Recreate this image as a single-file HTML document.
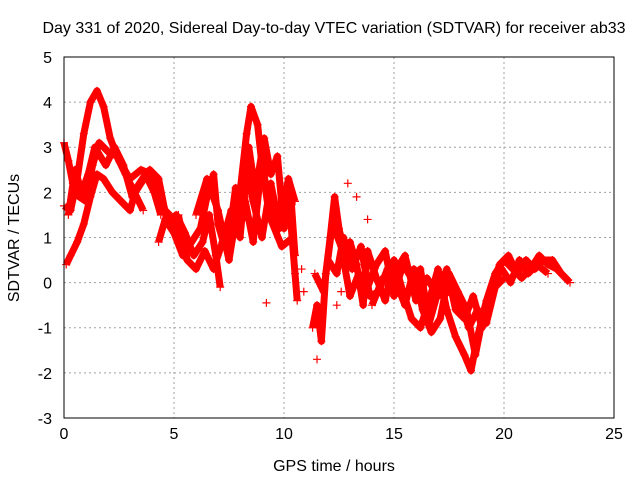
<!DOCTYPE html>
<html><head><meta charset="utf-8"><style>
body{margin:0;background:#fff;}
svg text{font-family:"Liberation Sans",sans-serif;font-size:16px;fill:#000;}
</style></head><body>
<svg id="chart" width="640" height="480">
<text x="334" y="33" text-anchor="middle">Day 331 of 2020, Sidereal Day-to-day VTEC variation (SDTVAR) for receiver ab33</text>
<text x="334" y="471" text-anchor="middle">GPS time / hours</text>
<text x="0" y="0" transform="translate(19,238) rotate(-90)" text-anchor="middle">SDTVAR / TECUs</text>
<g id="grid"></g><g id="ticks"></g><g id="marks"></g>
<rect x="64" y="57" width="550" height="361" fill="none" stroke="#000" stroke-width="1"/>
</svg>
<script>
const xTicks=[0,5,10,15,20,25];
const yTicks=[-3,-2,-1,0,1,2,3,4,5];
const arcA=[[0,1.7],[0.3,1.6],[0.6,2.3],[0.9,3.3],[1.2,4.0],[1.5,4.25],[1.8,3.9],[2.1,3.2],[2.5,2.7],[3.0,2.3],[3.5,2.5],[4.0,2.4],[4.3,2.0],[4.6,1.6],[5.0,1.4],[5.3,1.0],[5.6,0.8]];
const arcB=[[0,3.1],[0.2,2.7],[0.4,2.2],[0.7,1.9],[1.0,1.8],[1.3,2.6],[1.6,3.1],[2.0,2.9],[2.4,2.8],[2.8,2.4],[3.2,2.0],[3.6,1.6]];
const arcC=[[0.1,0.4],[0.3,0.6],[0.6,0.9],[0.9,1.3],[1.2,1.9],[1.5,2.4],[1.8,2.3],[2.2,2.0],[2.6,1.8],[3.0,1.6],[3.3,2.1],[3.7,2.4],[4.1,2.0],[4.4,1.5]];
const arcD=[[4.3,0.9],[4.6,1.4],[5.0,1.1],[5.4,0.6],[5.8,0.9],[6.2,1.2],[6.5,1.9],[6.8,2.4],[7.0,1.3],[7.3,0.8],[7.6,1.2],[8.0,2.0],[8.3,3.3],[8.5,3.9],[8.8,3.5],[9.0,2.6],[9.3,1.6],[9.6,1.5],[10.0,1.9],[10.3,1.4],[10.5,0.2],[10.6,-0.4]];
const arcE=[[5.2,1.5],[5.6,0.5],[6.0,0.3],[6.4,0.7],[6.8,0.3],[7.2,0.9],[7.6,1.6],[8.0,1.0],[8.3,2.5],[8.6,1.8],[9.0,1.0],[9.4,2.2],[9.8,1.2],[10.2,2.3],[10.5,1.8]];
const arcF=[[6.0,1.5],[6.5,2.3],[7.0,1.6],[7.5,0.5],[7.8,1.4],[8.2,1.9],[8.6,0.9],[9.0,2.7],[9.4,1.4],[9.9,0.8],[10.4,1.0]];
const arcJ=[[0.2,1.5],[0.5,2.5],[0.8,2.0],[1.1,2.4],[1.4,3.0],[1.9,2.6],[2.3,3.0],[2.7,2.6],[3.1,1.9],[3.5,2.2],[3.9,2.5],[4.3,2.3],[4.7,1.3],[5.1,1.5],[5.5,1.1],[5.9,0.6],[6.3,0.9],[6.6,1.5],[6.9,0.6],[7.1,-0.1]];
const arcK=[[7.2,1.2],[7.5,1.0],[7.8,2.1],[8.1,1.4],[8.4,3.0],[8.7,2.0],[9.1,3.2],[9.4,2.4],[9.7,2.8],[10.0,1.2],[10.3,2.0],[10.5,0.6]];
const arcG=[[11.3,-1.0],[11.5,-0.5],[11.7,-1.3],[11.9,0.2],[12.1,1.0],[12.3,1.9],[12.5,1.2],[12.8,0.5],[13.0,0.9],[13.3,0.4],[13.6,-0.5],[13.8,0.7],[14.2,0.1],[14.6,-0.4],[15.0,0.5],[15.4,-0.2],[15.8,-0.8],[16.2,-1.0],[16.6,-0.4],[17.0,0.3],[17.4,-0.6],[17.8,-1.2],[18.2,-1.6],[18.5,-1.95],[18.8,-1.2],[19.2,-0.4],[19.6,0.2],[20.0,0.5],[20.4,0.3],[20.8,0.1],[21.2,0.3],[21.6,0.6],[22.0,0.4],[22.4,0.3],[22.9,0.05]];
const arcH=[[11.4,0.2],[11.8,-0.2],[12.2,1.3],[12.6,0.8],[13.0,-0.3],[13.4,0.2],[13.8,-0.1],[14.2,0.4],[14.6,0.7],[15.0,-0.3],[15.4,0.4],[15.8,0.1],[16.2,0.3],[16.6,-0.9],[17.0,-0.2],[17.4,0.3],[17.8,-0.6],[18.2,-0.8],[18.6,-0.3],[19.0,-1.0],[19.4,-0.2],[19.8,0.4],[20.2,0.6],[20.6,0.2],[21.0,0.5],[21.4,0.3],[21.8,0.5],[22.2,0.5],[22.6,0.2],[23.0,0.0]];
const arcI=[[14.0,-0.5],[14.5,0.1],[15.0,0.2],[15.5,0.6],[16.0,-0.4],[16.5,0.1],[17.0,-0.3],[17.5,-0.2],[18.0,-0.4],[18.4,-1.0],[18.8,-0.6],[19.2,-0.9],[19.6,-0.1],[20.0,0.1]];
const arcL=[[12.0,0.5],[12.4,0.2],[12.7,1.0],[13.1,0.3],[13.5,0.8],[13.9,-0.3],[14.3,-0.2],[14.7,0.3],[15.1,0.0],[15.5,-0.5],[15.9,0.3],[16.3,-0.6],[16.7,-1.1],[17.1,-0.8],[17.5,0.2],[17.9,-0.2],[18.3,-0.6],[18.7,-1.6],[19.1,-0.6],[19.5,0.0],[19.9,0.3],[20.3,0.0],[20.7,0.5],[21.1,0.2],[21.5,0.4],[22.0,0.2]];
const scatter=[[9.2,-0.45],[10.8,0.3],[11.5,-1.7],[12.4,-0.5],[12.9,2.2],[13.3,1.9],[13.8,1.4],[10.9,-0.2],[12.6,-0.2]];
const arcs=[arcA,arcB,arcC,arcD,arcE,arcF,arcJ,arcK,arcG,arcH,arcI,arcL];
const NS='http://www.w3.org/2000/svg';
const X=t=>64+t*22, Y=v=>282.6-v*45.125;
const grid=document.getElementById('grid'),ticks=document.getElementById('ticks'),marks=document.getElementById('marks');
function mk(tag,p,parent){const e=document.createElementNS(NS,tag);for(const k in p)e.setAttribute(k,p[k]);parent.appendChild(e);return e;}
xTicks.forEach(t=>{
 if(t>0&&t<25){const g=mk('line',{x1:X(t),x2:X(t),y1:57,y2:418,stroke:'#a0a0a0','stroke-dasharray':'2,3'},grid);
 
 }
 const l=mk('text',{x:X(t),y:439,'text-anchor':'middle'},ticks);l.textContent=t;
 
 
});
yTicks.forEach(v=>{
 if(v>-3&&v<5){const g=mk('line',{x1:64,x2:614,y1:Y(v),y2:Y(v),stroke:'#a0a0a0','stroke-dasharray':'2,3'},grid);
 
 }
 const l=mk('text',{x:52,y:Y(v)+6,'text-anchor':'end'},ticks);l.textContent=v;
 
 
});
arcs.forEach(a=>{
 const pl=mk('polyline',{points:a.map(p=>X(p[0])+','+Y(p[1])).join(' '),fill:'none',stroke:'#ff0000','stroke-width':7,'stroke-linejoin':'round'},marks);
 
 
});
arcs.concat([scatter]).forEach(a=>a.forEach(p=>{
 const x=X(p[0]),y=Y(p[1]);
 const m=mk('path',{d:`M${x-4},${y}H${x+4}M${x},${y-4}V${y+4}`,stroke:'#ff0000','stroke-width':1.2},marks);
 
 
}));
</script>
</body></html>
